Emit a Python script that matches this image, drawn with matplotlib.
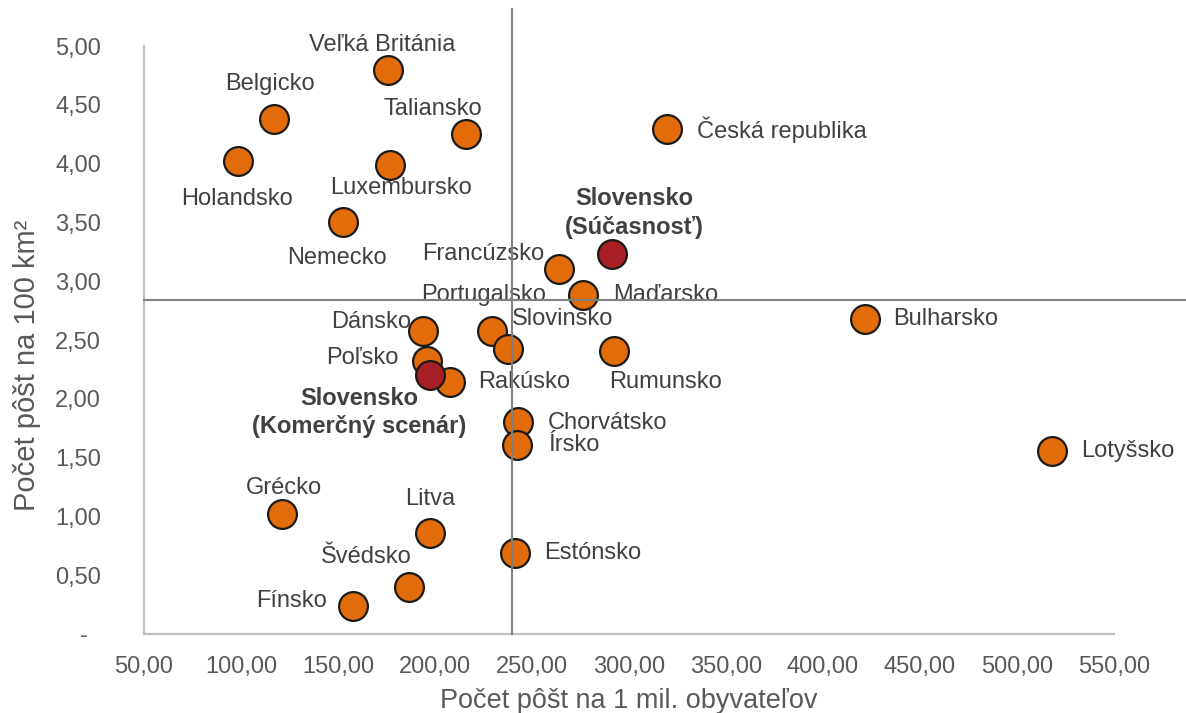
import matplotlib
matplotlib.use("Agg")
import matplotlib.pyplot as plt
from matplotlib.ticker import FuncFormatter, MultipleLocator

plt.rcParams['font.family'] = ['Liberation Sans', 'DejaVu Sans']

# Počet pôšt na 1 mil. obyvateľov (x) a na 100 km2 (y)
countries = [
    "Veľká Británia", "Belgicko", "Taliansko", "Holandsko", "Luxembursko",
    "Nemecko", "Česká republika", "Francúzsko", "Maďarsko", "Portugalsko",
    "Dánsko", "Slovinsko", "Poľsko", "Rakúsko", "Rumunsko", "Bulharsko",
    "Chorvátsko", "Írsko", "Lotyšsko", "Grécko", "Litva", "Estónsko",
    "Švédsko", "Fínsko",
]
posts_per_million = [
    175.9, 117.0, 216.1, 98.3, 176.8,
    152.6, 319.4, 263.8, 276.4, 229.5,
    194.0, 237.5, 196.0, 207.7, 292.4, 421.7,
    242.9, 242.4, 518.2, 121.1, 197.4, 241.2,
    186.6, 157.9,
]
posts_per_100km2 = [
    4.80, 4.38, 4.25, 4.02, 3.99,
    3.50, 4.29, 3.10, 2.88, 2.58,
    2.58, 2.42, 2.32, 2.14, 2.41, 2.68,
    1.80, 1.61, 1.56, 1.02, 0.86, 0.69,
    0.40, 0.24,
]

# Slovensko - súčasný stav a komerčný scenár
sk_names = ["Slovensko\n(Súčasnosť)", "Slovensko\n(Komerčný scenár)"]
sk_per_million = [291.2, 197.4]
sk_per_100km2 = [3.23, 2.20]

# priemer EÚ (osi kvadrantov)
avg_per_million = 239.5
avg_per_100km2 = 2.84

# posun popisov v pixeloch: (dx, dy, zarovnanie)
label_pos = {
    "Veľká Británia": (-6, 25, "center"),
    "Belgicko": (-4, 35, "center"),
    "Taliansko": (-33, 25, "center"),
    "Holandsko": (-1, -38, "center"),
    "Luxembursko": (11, -23, "center"),
    "Nemecko": (-6, -36, "center"),
    "Česká republika": (30, 0, "left"),
    "Francúzsko": (-15, 15, "right"),
    "Maďarsko": (30, 0, "left"),
    "Portugalsko": (-9, 36, "center"),
    "Dánsko": (-12, 9, "right"),
    "Slovinsko": (4, 30, "left"),
    "Poľsko": (-29, 3, "right"),
    "Rakúsko": (28, 0, "left"),
    "Rumunsko": (51, -31, "center"),
    "Bulharsko": (28, 0, "left"),
    "Chorvátsko": (30, -1, "left"),
    "Írsko": (31, 0, "left"),
    "Lotyšsko": (29, 0, "left"),
    "Grécko": (2, 26, "center"),
    "Litva": (0, 34, "center"),
    "Estónsko": (29, 0, "left"),
    "Švédsko": (-43, 30, "center"),
    "Fínsko": (-26, 5, "right"),
    "Slovensko\n(Súčasnosť)": (22, 41, "center"),
    "Slovensko\n(Komerčný scenár)": (-71, -37, "center"),
}

TEXT = "#404040"
AXIS_TEXT = "#595959"
ORANGE = "#E26C0A"
DARKRED = "#A91F26"

fig = plt.figure(figsize=(11.86, 7.13), dpi=100)
ax = fig.add_axes([144 / 1186, 79 / 713, 970 / 1186, 588 / 713])

ax.scatter(posts_per_million, posts_per_100km2, s=430, color=ORANGE,
           edgecolor="#1A1A1A", linewidth=1.6, zorder=3)
ax.scatter(sk_per_million, sk_per_100km2, s=430, color=DARKRED,
           edgecolor="#1A1A1A", linewidth=1.6, zorder=4)

for name, x, y in zip(countries, posts_per_million, posts_per_100km2):
    dx, dy, ha = label_pos[name]
    ax.annotate(name, (x, y), xytext=(dx, dy), textcoords="offset pixels",
                ha=ha, va="center", fontsize=17, color=TEXT, zorder=5)

for name, x, y in zip(sk_names, sk_per_million, sk_per_100km2):
    dx, dy, ha = label_pos[name]
    ax.annotate(name, (x, y), xytext=(dx, dy), textcoords="offset pixels",
                ha=ha, va="center", multialignment="center", fontsize=17,
                fontweight="bold", color=TEXT, linespacing=1.3, zorder=5)

# osi kvadrantov presahujú graf
ax.axhline(avg_per_100km2, xmin=0, xmax=1042 / 970, color="#7F7F7F",
           linewidth=1.5, clip_on=False, zorder=6)
ax.axvline(avg_per_million, ymin=0, ymax=625 / 588, color="#7F7F7F",
           linewidth=1.5, clip_on=False, zorder=6)

ax.set_xlim(50, 550)
ax.set_ylim(0, 5)
ax.xaxis.set_major_locator(MultipleLocator(50))
ax.yaxis.set_major_locator(MultipleLocator(0.5))


def fmt_x(v, pos):
    return f"{v:.2f}".replace(".", ",")


def fmt_y(v, pos):
    if abs(v) < 1e-9:
        return "-  "
    return f"{v:.2f}".replace(".", ",")


ax.xaxis.set_major_formatter(FuncFormatter(fmt_x))
ax.yaxis.set_major_formatter(FuncFormatter(fmt_y))
ax.tick_params(axis="both", length=0, labelsize=17, labelcolor=AXIS_TEXT)
ax.tick_params(axis="x", pad=16)
ax.tick_params(axis="y", pad=31)

for side in ("top", "right"):
    ax.spines[side].set_visible(False)
for side in ("left", "bottom"):
    ax.spines[side].set_color("#BFBFBF")
    ax.spines[side].set_linewidth(1.6)

fig.text(629 / 1186, 1 - 708 / 713, "Počet pôšt na 1 mil. obyvateľov",
         ha="center", va="baseline", fontsize=19.5, color=AXIS_TEXT)
fig.text(27 / 1186, 1 - 365 / 713, "Počet pôšt na 100 km²",
         ha="center", va="center", rotation=90, fontsize=21, color=AXIS_TEXT)

fig.savefig("out.png", dpi=100, facecolor="white")
